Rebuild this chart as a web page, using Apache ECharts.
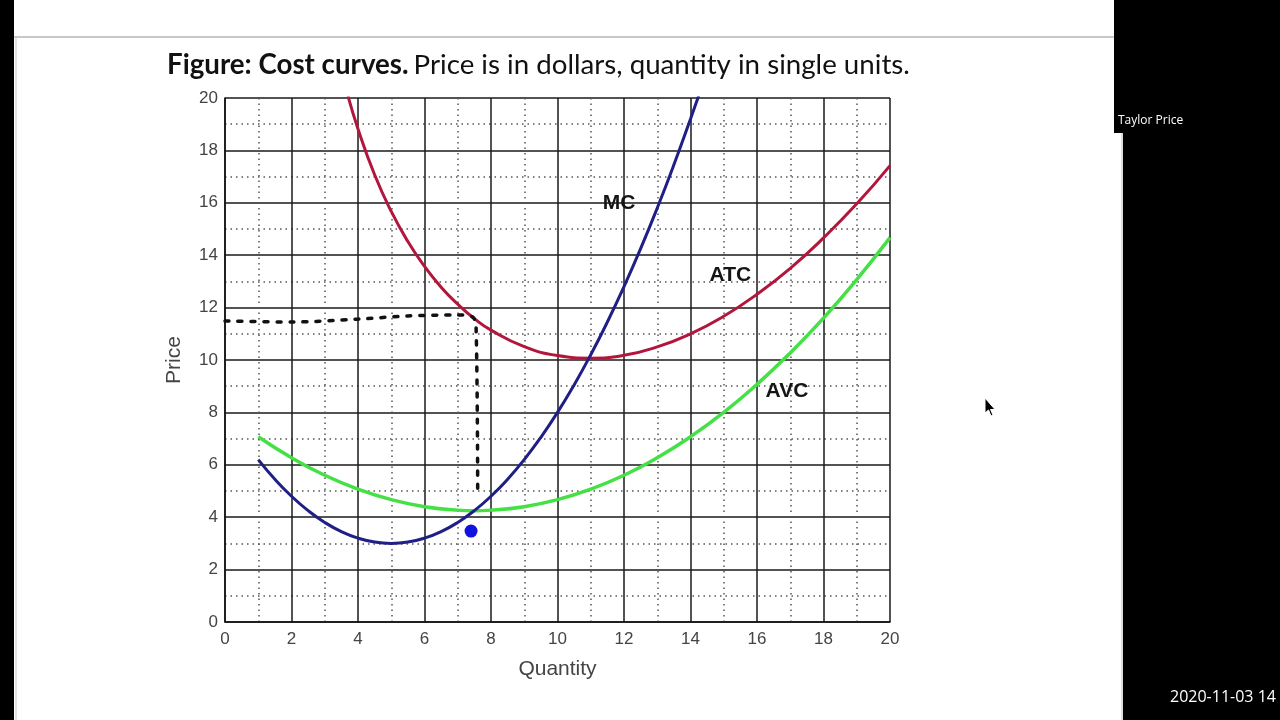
<!DOCTYPE html>
<html>
<head>
<meta charset="utf-8">
<script src="https://cdn.jsdelivr.net/npm/echarts@6/dist/echarts.min.js"></script>
<style>
html,body{margin:0;padding:0;background:#fff;}
#chart{width:1280px;height:720px;}
</style>
</head>
<body>
<div id="chart"></div>
<script>
// ---- data ----
const xTicks = [0,2,4,6,8,10,12,14,16,18,20];
const yTicks = [0,2,4,6,8,10,12,14,16,18,20];

const mcQ = [1,1.5,2,2.5,3,3.5,4,4.5,5,5.5,6,6.5,7,7.5,8,8.5,9,9.5,10,10.5,11,11.5,12,12.5,13,13.5,14,14.25];
const mcP = [6.2,5.45,4.8,4.25,3.8,3.45,3.2,3.05,3.0,3.05,3.2,3.45,3.8,4.25,4.8,5.45,6.2,7.05,8.0,9.05,10.2,11.45,12.8,14.25,15.8,17.45,19.2,20.1];

const atcQ = [3.7,4,4.5,5,5.5,6,6.5,7,7.5,8,9,10,11,12,13,14,15,16,17,18,19,20];
const atcP = [20.07,18.82,17.07,15.67,14.52,13.57,12.78,12.13,11.58,11.14,10.51,10.17,10.07,10.18,10.5,11.0,11.67,12.51,13.5,14.66,15.96,17.42];

const avcQ = [1,2,3,4,5,6,7,7.5,8,9,10,11,12,13,14,15,16,17,18,19,20];
const avcP = [7.07,6.27,5.6,5.07,4.67,4.4,4.27,4.25,4.27,4.4,4.67,5.07,5.6,6.27,7.07,8.0,9.07,10.27,11.6,13.07,14.67];

const guideQ = [0,2,4,5.5,7,7.45,7.55,7.6];
const guideP = [11.49,11.45,11.56,11.68,11.72,11.64,11.3,5.0];

const dotQ = [7.4];
const dotP = [3.47];

const curveNames = ['MC','ATC','AVC'];
const labelQ = [11.85,15.2,16.9];
const labelP = [16.0,13.25,8.8];

const zip = (a,b) => a.map((v,i) => [v,b[i]]);

const chart = echarts.init(document.getElementById('chart'));
const tickFont = {fontFamily:'Liberation Sans', fontSize:17, color:'#444'};

chart.setOption({
  backgroundColor:'#fff',
  animation:false,
  title:{
    left:162, top:46,
    text:'{b|Figure: Cost curves.} {r|Price is in dollars, quantity in single units.}',
    textStyle:{
      fontWeight:'normal',
      rich:{
        b:{fontFamily:'Lato', fontWeight:'bold', fontSize:27.7, color:'#111'},
        r:{fontFamily:'Lato', fontWeight:'normal', fontSize:27.7, color:'#111'}
      }
    }
  },
  grid:{left:225, top:98, width:665, height:524, show:false},
  xAxis:{
    type:'value', min:0, max:20, interval:2,
    name:'Quantity', nameLocation:'middle', nameGap:37,
    nameTextStyle:{fontFamily:'Liberation Sans', fontSize:21, color:'#444'},
    axisLine:{show:true, onZero:false, lineStyle:{color:'#111', width:1.5}},
    axisTick:{show:false},
    axisLabel:Object.assign({margin:9, formatter:v => xTicks.includes(v) ? String(v) : ''}, tickFont),
    splitLine:{show:true, lineStyle:{color:'#1a1a1a', width:1.5}},
    minorTick:{show:false, splitNumber:2},
    minorSplitLine:{show:true, lineStyle:{color:'#555', width:1.5, type:[1.5,4]}}
  },
  yAxis:{
    type:'value', min:0, max:20, interval:2,
    name:'Price', nameLocation:'middle', nameGap:40, nameRotate:90,
    nameTextStyle:{fontFamily:'Liberation Sans', fontSize:21, color:'#444'},
    axisLine:{show:true, onZero:false, lineStyle:{color:'#111', width:1.5}},
    axisTick:{show:false},
    axisLabel:Object.assign({margin:7, formatter:v => yTicks.includes(v) ? String(v) : ''}, tickFont),
    splitLine:{show:true, lineStyle:{color:'#1a1a1a', width:1.5}},
    minorTick:{show:false, splitNumber:2},
    minorSplitLine:{show:true, lineStyle:{color:'#555', width:1.5, type:[1.5,4]}}
  },
  series:[
    {name:'ATC', type:'line', smooth:true, showSymbol:false, clip:true,
     data:zip(atcQ,atcP), lineStyle:{color:'#b3163c', width:3}, z:3},
    {name:'AVC', type:'line', smooth:true, showSymbol:false, clip:true,
     data:zip(avcQ,avcP), lineStyle:{color:'#45e045', width:3.5}, z:3},
    {name:'MC', type:'line', smooth:true, showSymbol:false, clip:true,
     data:zip(mcQ,mcP), lineStyle:{color:'#1f1f86', width:3}, z:4},
    {name:'guide', type:'line', smooth:0.3, showSymbol:false,
     data:zip(guideQ,guideP), lineStyle:{color:'#111', width:3.5, type:[4,9], cap:'round'}, z:5},
    {name:'point', type:'scatter', data:zip(dotQ,dotP), symbolSize:13,
     itemStyle:{color:'#1212e0', opacity:1}, z:6},
    {name:'labels', type:'scatter', symbolSize:1, z:7,
     itemStyle:{opacity:0},
     data:labelQ.map((q,i) => ({value:[q,labelP[i]], name:curveNames[i]})),
     label:{show:true, position:'inside', formatter:p => p.name, opacity:1,
            textBorderWidth:0,
            fontFamily:'Liberation Sans', fontWeight:'bold', fontSize:21, color:'#151515'}}
  ],
  graphic:[
    {type:'rect', shape:{x:0, y:0, width:14, height:720}, style:{fill:'#000'}},
    {type:'line', shape:{x1:14, y1:37, x2:1114, y2:37}, style:{stroke:'#c8c8c8', lineWidth:2}},
    {type:'line', shape:{x1:16, y1:38, x2:16, y2:720}, style:{stroke:'#e4e4e4', lineWidth:2}},
    {type:'rect', shape:{x:1114, y:0, width:166, height:133}, style:{fill:'#000'}},
    {type:'rect', shape:{x:1123, y:133, width:157, height:587}, style:{fill:'#000'}},
    {type:'line', shape:{x1:1122, y1:133, x2:1122, y2:720}, style:{stroke:'#bbb', lineWidth:1}},
    {type:'text', left:1118, top:115, style:{text:'Taylor Price', fill:'#fff', font:'12px "Open Sans"'}},
    {type:'text', left:1170, top:689, style:{text:'2020-11-03 14', fill:'#fff', font:'16px "Open Sans"'}},
    {type:'polygon', shape:{points:[[985,398],[985,413],[988.5,410],[991,416],[993,415],[990.5,409.5],[995,409.5]]},
     style:{fill:'#000', stroke:'#fff', lineWidth:1}}
  ]
});
</script>
</body>
</html>
